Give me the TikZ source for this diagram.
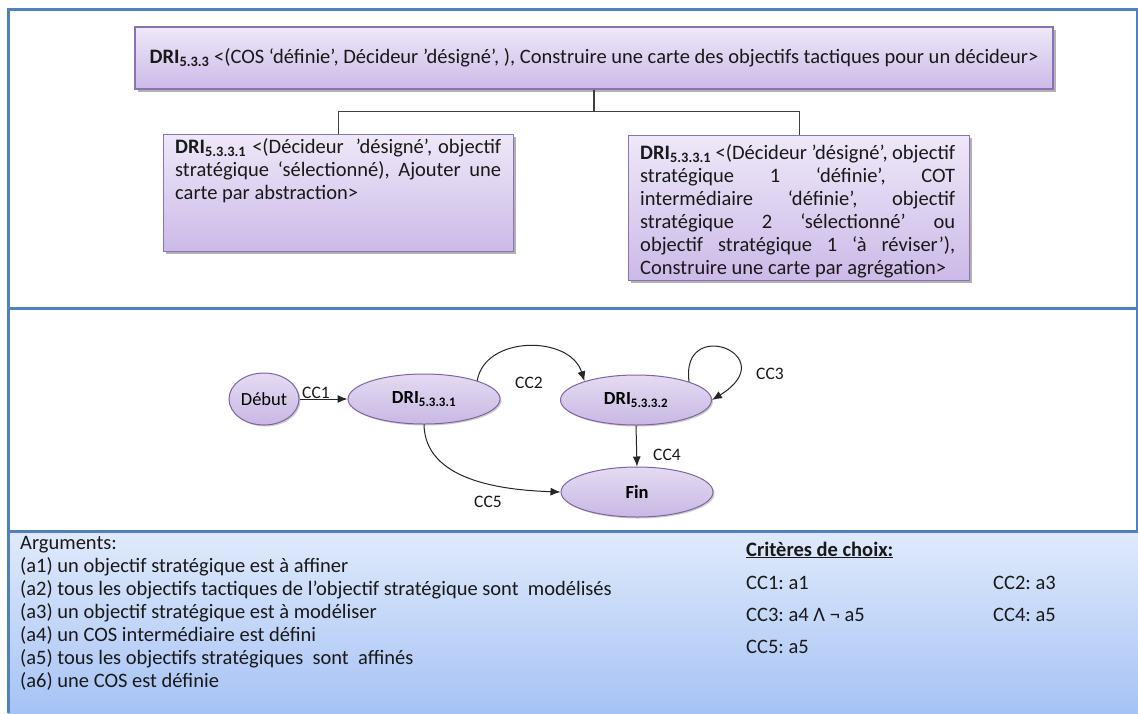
\documentclass[tikz,border=0pt]{standalone}
\usepackage{fontspec}
\setmainfont{Carlito}
\usetikzlibrary{shapes.geometric,shadows,arrows.meta}
\definecolor{panelblue}{RGB}{79,129,189}
\definecolor{boxline}{RGB}{138,115,178}
\definecolor{boxtop}{RGB}{238,232,248}
\definecolor{boxbot}{RGB}{203,186,232}
\definecolor{stline}{RGB}{128,100,162}
\definecolor{sttop}{RGB}{228,219,242}
\definecolor{stbot}{RGB}{200,184,228}
\definecolor{bgtop}{RGB}{224,234,251}
\definecolor{bgbot}{RGB}{166,195,245}
\newcommand{\dri}[1]{\textbf{DRI}\textsubscript{\textbf{#1}}}
\frenchspacing
\begin{document}
\frenchspacing
\begin{tikzpicture}[x=1pt,y=-1pt,
  font=\fontsize{20.5}{23}\selectfont,
  panel/.style={draw=panelblue, line width=3pt},
  pbox/.style={draw=boxline, line width=1.2pt, top color=boxtop, bottom color=boxbot, inner sep=0pt,
    drop shadow={shadow xshift=2.5pt,shadow yshift=-2.5pt,opacity=0.3,fill=black}},
  st/.style={ellipse, draw=stline, line width=1pt, top color=sttop, bottom color=stbot, inner sep=0pt,
    font=\fontsize{18.5}{20}\selectfont,
    drop shadow={shadow xshift=1.5pt,shadow yshift=-1.5pt,opacity=0.2,fill=black}},
  conn/.style={draw=black!75, line width=1.2pt},
  arr/.style={-{Latex[length=10pt,width=8pt]}, line width=1pt, draw=black!85},
  lbl/.style={font=\fontsize{17.5}{20}\selectfont, inner sep=0pt, text=black!90},
  txt/.style={inner sep=0pt, text=black!90}
]
\useasboundingbox (0,0) rectangle (1138,713);
\fill[white] (0,0) rectangle (1138,713);
\shade[top color=bgtop, bottom color=bgbot] (8,531) rectangle (1138,713);
\draw[panel] (8,9) rectangle (1137,308);
\draw[panel] (8,308) rectangle (1137,531);
\draw[panel] (8,713) -- (8,531);

% hierarchy
\node[pbox, minimum width=918pt, minimum height=62pt, text=black!90] (top) at (594,58)
  {\dri{5.3.3} <(COS ‘définie’, Décideur ’désigné’, ), Construire une carte des objectifs tactiques pour un décideur>};
\node[pbox, minimum width=350pt, minimum height=117pt, anchor=north west] (b1) at (163,134) {};
\node[txt, anchor=north west, text width=326pt, align=justify] (t1) at ([xshift=12pt,yshift=-4pt]b1.north west)
  {\dri{5.3.3.1} <(Décideur~ ’désigné’, objectif\linebreak stratégique ‘sélectionné), Ajouter une\linebreak carte par abstraction>};
\node[pbox, minimum width=341pt, minimum height=145pt, anchor=north west] (b2) at (628,135) {};
\node[txt, anchor=north west, text width=315pt, align=justify] (t2) at ([xshift=12pt,yshift=-9pt]b2.north west)
  {\dri{5.3.3.1} <(Décideur ’désigné’, objectif\linebreak stratégique 1 ‘définie’, COT\linebreak intermédiaire ‘définie’, objectif\linebreak stratégique 2 ‘sélectionné’ ou\linebreak objectif stratégique 1 ‘à réviser’),\linebreak Construire une carte par agrégation>};
\draw[conn] (top.south) -- ++(0,22) coordinate (j) -| (b1.north);
\draw[conn] (j) -| (b2.north);

% state graph
\node[st, minimum width=70pt, minimum height=52pt] (deb) at (264,399) {Début};
\node[st, minimum width=152pt, minimum height=50pt] (d1) at (424,399) {\dri{5.3.3.1}};
\node[st, minimum width=151pt, minimum height=50pt] (d2) at (636,400) {\dri{5.3.3.2}};
\node[st, minimum width=152pt, minimum height=50pt] (fin) at (637,492) {\textbf{Fin}};

\draw[arr] (deb.east) -- (d1.west);
\draw[arr] (d1.19) .. controls (485,335) and (570,335) .. (d2.160);
\draw[arr] (d2.19) .. controls (680,315) and (785,355) .. (d2.east);
\draw[arr] (d2.south) -- (fin.north);
\draw[arr] (d1.south) .. controls (425,480) and (500,490) .. (fin.west);

\node[lbl] (l1) at (316,393) {CC1};
\node[lbl] (l2) at (529,383) {CC2};
\node[lbl] (l3) at (770,374) {CC3};
\node[lbl] (l4) at (667,455) {CC4};
\node[lbl] (l5) at (488,502) {CC5};

% arguments
\node[txt, anchor=north west, align=left] (args) at (20,536)
  {Arguments:\\
   (a1) un objectif stratégique est à affiner\\
   (a2) tous les objectifs tactiques de l’objectif stratégique sont~ modélisés\\
   (a3) un objectif stratégique est à modéliser\\
   (a4) un COS intermédiaire est défini\\
   (a5) tous les objectifs stratégiques~ sont~ affinés\\
   (a6) une COS est définie};

\node[txt, anchor=west, font=\fontsize{20.5}{23}\selectfont\bfseries] (crit) at (746,550) {\underline{Critères de choix:}};
\node[txt, anchor=west] (c1) at (746,583) {CC1: a1};
\node[txt, anchor=west] (c2) at (993,583) {CC2: a3};
\node[txt, anchor=west] (c3) at (746,615) {CC3: a4 Λ ¬ a5};
\node[txt, anchor=west] (c4) at (993,615) {CC4: a5};
\node[txt, anchor=west] (c5) at (746,647) {CC5: a5};
\end{tikzpicture}
\end{document}
